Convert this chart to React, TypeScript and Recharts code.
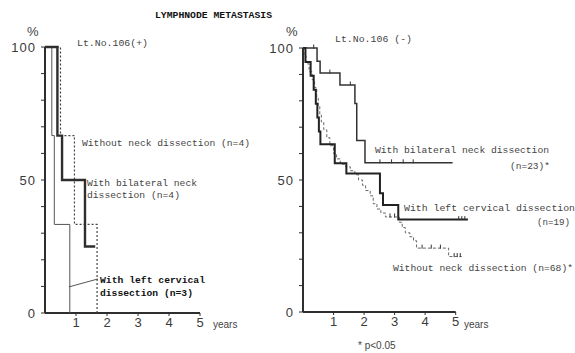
import React from 'react';
import { ComposedChart, Line, Scatter, XAxis, YAxis, ReferenceLine } from 'recharts';

// Survival (%) by years after surgery, step points [years, percent]
const posBilateral = [[0, 100], [0.4, 66.7], [0.55, 50], [1.29, 25], [1.62, 25]];
const posLeftCervical = [[0, 100], [0.22, 66.7], [0.3, 33.3], [0.8, 0]];
const posWithout = [[0, 100], [0.5, 66.7], [0.95, 33.3], [1.68, 0]];

const negBilateral = [[0, 100], [0.46, 95], [0.56, 90.5], [1.21, 86], [1.7, 79], [1.76, 65], [2.03, 56.5], [4.9, 56.5]];
const negLeftCervical = [
  [0, 100], [0.08, 94.7], [0.25, 89.5], [0.35, 84.2], [0.42, 78.9], [0.47, 73.7], [0.52, 68.4],
  [0.57, 63.5], [1.04, 56.3], [1.42, 52.5], [2.52, 45], [2.62, 40.5], [3.12, 35], [5.4, 35],
];
const negWithout = [
  [0, 100], [0.03, 97], [0.1, 94], [0.2, 91], [0.3, 88], [0.38, 85], [0.45, 81], [0.5, 78],
  [0.55, 75], [0.6, 72], [0.68, 69], [0.78, 66], [0.88, 63], [1.0, 60], [1.1, 58], [1.22, 56],
  [1.4, 55], [1.55, 53.5], [1.7, 52], [1.82, 50], [1.95, 48], [2.05, 46], [2.2, 44], [2.3, 41],
  [2.42, 39], [2.55, 37.5], [2.7, 36], [3.15, 34], [3.25, 32], [3.35, 30], [3.5, 28.5],
  [3.62, 27], [3.72, 24.2], [4.77, 21], [5.2, 21],
];

// Censored observations
const negBilateralCensored = [[0.35, 100], [0.88, 90.5], [1.55, 86], [2.52, 56.5], [2.9, 56.5], [3.28, 56.5], [3.61, 56.5]];
const negLeftCervicalCensored = [[5.1, 35], [5.2, 35], [5.3, 35]];
const negWithoutCensored = [[2.85, 36], [3.0, 36], [3.9, 24.2], [4.2, 24.2], [4.5, 24.2], [4.95, 21], [5.05, 21], [5.15, 21]];

const yearTicks = [1, 2, 3, 4, 5];
const percentTicks = [0, 10, 20, 30, 40, 50, 60, 70, 80, 90, 100];

const toPts = (a: number[][]) => a.map(([t, s]) => ({ t, s }));

const INK = '#2e2e2e';
const NUM_FONT = '"Liberation Sans", Arial, sans-serif';
const MONO = '"Liberation Mono", "DejaVu Sans Mono", monospace';

type Series = { data: number[][]; stroke: string; width: number; dash?: string };

const CensorMark = (p: any) => (
  <line x1={p.cx} x2={p.cx} y1={p.cy - 3.5} y2={p.cy + 0.5} stroke="#333" strokeWidth={1} />
);

function Panel(props: {
  left: number;
  width: number;
  rightMargin: number;
  top: number;
  bottom: number;
  xMax: number;
  series: Series[];
  censored: number[][][];
  leader?: { x1: number; y1: number; x2: number; y2: number };
}) {
  const { left, width, rightMargin, top, bottom, xMax, series, censored, leader } = props;
  return (
    <div style={{ position: 'absolute', left, top: 0 }}>
      <ComposedChart
        width={width}
        height={353}
        margin={{ top, right: rightMargin, bottom, left: 15 }}
      >
        <XAxis
          dataKey="t"
          type="number"
          domain={[0, xMax]}
          allowDataOverflow
          ticks={yearTicks}
          axisLine={false}
          tickLine={{ stroke: INK, strokeWidth: 1 }}
          tickSize={3}
          height={25}
          tick={{ fontSize: 13, fill: '#3a3a3a', fontFamily: NUM_FONT }}
        />
        <YAxis
          dataKey="s"
          type="number"
          domain={[0, 100]}
          ticks={percentTicks}
          width={30}
          interval={0}
          axisLine={{ stroke: INK, strokeWidth: 2 }}
          tickLine={{ stroke: INK, strokeWidth: 1 }}
          tickSize={4}
          tickMargin={5}
          tickFormatter={(v: number) => (v % 50 === 0 ? String(v) : '')}
          tick={{ fontSize: 13, fill: '#3a3a3a', fontFamily: NUM_FONT, letterSpacing: 1 }}
        />
        <ReferenceLine
          segment={[{ x: 0, y: 0 }, { x: 5, y: 0 }]}
          stroke={INK}
          strokeWidth={2}
          ifOverflow="visible"
        />
        {leader && (
          <ReferenceLine
            segment={[{ x: leader.x1, y: leader.y1 }, { x: leader.x2, y: leader.y2 }]}
            stroke="#555"
            strokeWidth={1}
            ifOverflow="visible"
          />
        )}
        {series.map((s, i) => (
          <Line
            key={i}
            data={toPts(s.data)}
            dataKey="s"
            type="stepAfter"
            stroke={s.stroke}
            strokeWidth={s.width}
            strokeDasharray={s.dash}
            dot={false}
            activeDot={false}
            isAnimationActive={false}
          />
        ))}
        {censored.map((c, i) => (
          <Scatter
            key={'c' + i}
            data={toPts(c)}
            dataKey="s"
            shape={CensorMark}
            isAnimationActive={false}
          />
        ))}
      </ComposedChart>
    </div>
  );
}

function Label(p: { x: number; y: number; len?: number; bold?: boolean; size?: number; font?: string; children: string }) {
  return (
    <text
      x={p.x}
      y={p.y}
      fontFamily={p.font ?? MONO}
      fontSize={p.size ?? 9.5}
      fontWeight={p.bold ? 'bold' : 'normal'}
      fill={p.bold ? '#111' : '#444'}
      textLength={p.len}
      lengthAdjust={p.len ? 'spacingAndGlyphs' : undefined}
    >
      {p.children}
    </text>
  );
}

export default function App() {
  return (
    <div style={{ position: 'absolute', left: 0, top: 0, width: 575, height: 353, background: '#fff', overflow: 'hidden' }}>
      <Panel
        left={0}
        width={290}
        rightMargin={90}
        top={47}
        bottom={15}
        xMax={5}
        series={[
          { data: posLeftCervical, stroke: '#555', width: 1 },
          { data: posWithout, stroke: '#444', width: 1.2, dash: '2 2' },
          { data: posBilateral, stroke: INK, width: 2.4 },
        ]}
        censored={[]}
        leader={{ x1: 0.77, y1: 9.8, x2: 1.71, y2: 12.8 }}
      />
      <Panel
        left={258}
        width={317}
        rightMargin={101}
        top={48}
        bottom={16}
        xMax={5.6}
        series={[
          { data: negWithout, stroke: '#666', width: 1, dash: '3 2' },
          { data: negBilateral, stroke: '#333', width: 1.5 },
          { data: negLeftCervical, stroke: '#222', width: 2 },
        ]}
        censored={[negBilateralCensored, negLeftCervicalCensored, negWithoutCensored]}
      />
      <svg width={575} height={353} style={{ position: 'absolute', left: 0, top: 0, pointerEvents: 'none' }}>
        <Label x={155} y={18} len={117} bold>LYMPHNODE METASTASIS</Label>

        <Label x={27} y={36} size={13} font={NUM_FONT}>%</Label>
        <Label x={77} y={46} len={71}>Lt.No.106(+)</Label>
        <Label x={82} y={146} len={168}>Without neck dissection (n=4)</Label>
        <Label x={87} y={186} len={110}>With bilateral neck</Label>
        <Label x={87} y={198} len={93}>dissection (n=4)</Label>
        <Label x={100} y={283} len={105} bold>With left cervical</Label>
        <Label x={100} y={296} len={93} bold>dissection (n=3)</Label>
        <Label x={213} y={328} size={10} font={NUM_FONT}>years</Label>

        <Label x={286} y={36} size={13} font={NUM_FONT}>%</Label>
        <Label x={335} y={42} len={77}>Lt.No.106 (-)</Label>
        <Label x={375} y={153} len={174}>With bilateral neck dissection</Label>
        <Label x={510} y={169} len={40}>(n=23)*</Label>
        <Label x={404} y={211} len={171}>With left cervical dissection</Label>
        <Label x={537} y={225} len={33}>(n=19)</Label>
        <Label x={393} y={271} len={180}>Without neck dissection (n=68)*</Label>
        <Label x={464} y={328} size={10} font={NUM_FONT}>years</Label>
        <Label x={358} y={349} size={10} font={NUM_FONT}>* p&lt;0.05</Label>
      </svg>
    </div>
  );
}
